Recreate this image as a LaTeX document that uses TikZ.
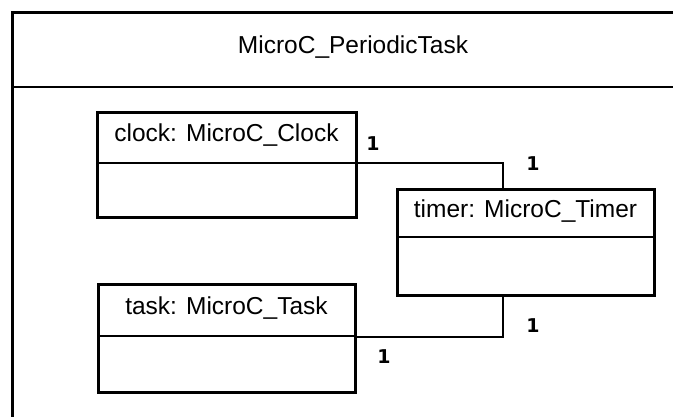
\documentclass[tikz,border=0pt]{standalone}
\usepackage{fontspec}
\setmainfont{Liberation Sans}
\newfontfamily\labfont{DejaVu Sans}
\begin{document}
\begin{tikzpicture}[x=1pt,y=-1pt,
  classbox/.style={draw, line width=3pt, inner sep=0pt, outer sep=0pt},
  sepline/.style={line width=1.6pt},
  conn/.style={line width=1.6pt},
  nametext/.style={font=\fontsize{24.5}{28}\selectfont, inner sep=0pt},
  mult/.style={font=\labfont\bfseries\fontsize{19}{21}\selectfont, inner sep=0pt}]
\useasboundingbox (0,0) rectangle (673,416);
\begin{scope}
\clip (0,0) rectangle (673,416);
\node[draw, line width=2.5pt, minimum width=690pt, minimum height=420pt, inner sep=0pt, outer sep=0pt, anchor=north west] (outer) at (12.5,12.5) {};
\draw[line width=2.5pt] (12.5,87) -- (700,87);
\end{scope}
\node[nametext] (title) at (353,47) {MicroC\_PeriodicTask};

\node[classbox, minimum width=259pt, minimum height=105pt] (clock) at (226.5,164.5) {};
\draw[sepline] (97,163) -- (356,163);
\node[nametext] (clockname) at (226.5,135) {clock: MicroC\_Clock};

\node[classbox, minimum width=257pt, minimum height=106pt] (timer) at (525.5,242) {};
\draw[sepline] (397,237) -- (654,237);
\node[nametext] (timername) at (525.5,211) {timer: MicroC\_Timer};

\node[classbox, minimum width=257pt, minimum height=108pt] (task) at (226.5,338) {};
\draw[sepline] (98,336) -- (355,336);
\node[nametext] (taskname) at (226.5,308) {task: MicroC\_Task};

\draw[conn] ([yshift=1.5pt]clock.east) -| ([xshift=-22.5pt]timer.north);
\draw[conn] ([xshift=-22.5pt]timer.south) |- ([yshift=1pt]task.east);

\node[mult] (m1) at (373,144) {1};
\node[mult] (m2) at (533,164) {1};
\node[mult] (m3) at (533,326) {1};
\node[mult] (m4) at (384,357) {1};
\end{tikzpicture}
\end{document}
